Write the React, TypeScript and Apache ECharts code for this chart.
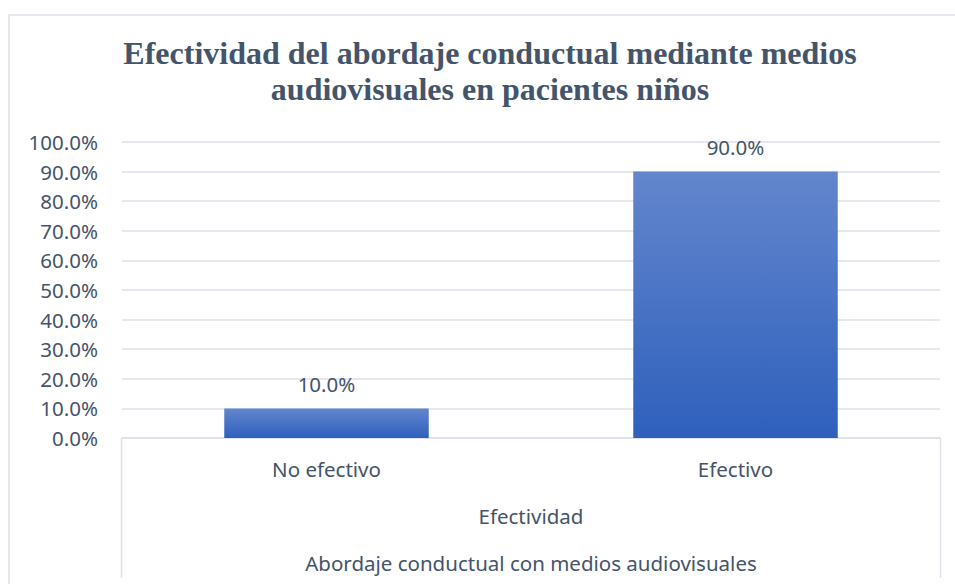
import React, { useEffect, useRef } from "react";
import * as echarts from "echarts";

const titleLines = [
  "Efectividad del abordaje conductual mediante medios",
  "audiovisuales en pacientes niños",
];
const categories = ["No efectivo", "Efectivo"];
const values = [0.1, 0.9];
const level2Label = "Efectividad";
const level3Label = "Abordaje conductual con medios audiovisuales";

const TEXT = "#44546A";
const GRID = "#DDE1E8";
const FONT = "'Noto Sans', sans-serif";

export default function App() {
  const ref = useRef<HTMLDivElement>(null);
  useEffect(() => {
    if (!ref.current) return;
    const chart = echarts.init(ref.current, undefined, { renderer: "svg" });
    const pct = (v: number) => (v * 100).toFixed(1) + "%";
    chart.setOption({
      animation: false,
      backgroundColor: "#ffffff",
      title: {
        text: titleLines.join("\n"),
        left: 490,
        top: 35,
        padding: 0,
        textAlign: "center",
        textStyle: {
          fontFamily: "'Liberation Serif', 'Times New Roman', serif",
          fontWeight: "bold",
          fontSize: 32,
          lineHeight: 36,
          color: TEXT,
        },
      },
      grid: { left: 122, right: 15, top: 142, bottom: 146, containLabel: false },
      xAxis: {
        type: "category",
        data: categories,
        axisLine: { show: true, lineStyle: { color: GRID, width: 1.5 } },
        axisTick: { show: false },
        axisLabel: {
          color: TEXT,
          fontFamily: FONT,
          fontSize: 20.5,
          margin: 20,
        },
      },
      yAxis: {
        type: "value",
        min: 0,
        max: 1,
        interval: 0.1,
        axisLine: { show: false },
        axisTick: { show: false },
        splitLine: { lineStyle: { color: GRID, width: 1.5 } },
        axisLabel: {
          color: TEXT,
          fontFamily: FONT,
          fontSize: 20.5,
          margin: 24,
          formatter: (v: number) => pct(v),
        },
      },
      series: [
        {
          type: "bar",
          data: values,
          barCategoryGap: "50%",
          itemStyle: {
            color: new echarts.graphic.LinearGradient(0, 0, 0, 1, [
              { offset: 0, color: "#6386CD" },
              { offset: 1, color: "#2E60BC" },
            ]),
          },
          label: {
            show: true,
            position: "top",
            distance: 14,
            color: TEXT,
            fontFamily: FONT,
            fontSize: 20.5,
            formatter: (p: any) => pct(p.value),
          },
        },
      ],
      graphic: [
        {
          type: "rect",
          shape: { x: 9, y: 15, width: 1000, height: 700 },
          style: { fill: "none", stroke: "#DDE2EA", lineWidth: 1.5 },
          silent: true,
        },
        {
          type: "line",
          shape: { x1: 121.5, y1: 438, x2: 121.5, y2: 578 },
          style: { stroke: GRID, lineWidth: 1.5 },
        },
        {
          type: "line",
          shape: { x1: 940.5, y1: 438, x2: 940.5, y2: 578 },
          style: { stroke: GRID, lineWidth: 1.5 },
        },
        {
          type: "text",
          x: 531,
          y: 516,
          style: {
            text: level2Label,
            fill: TEXT,
            font: `20.5px ${FONT}`,
            align: "center",
            verticalAlign: "middle",
          },
        },
        {
          type: "text",
          x: 531,
          y: 563,
          style: {
            text: level3Label,
            fill: TEXT,
            font: `20.5px ${FONT}`,
            align: "center",
            verticalAlign: "middle",
          },
        },
      ],
    });
    return () => chart.dispose();
  }, []);
  return (
    <div
      ref={ref}
      style={{ position: "fixed", left: 0, top: 0, width: 955, height: 584 }}
    />
  );
}
